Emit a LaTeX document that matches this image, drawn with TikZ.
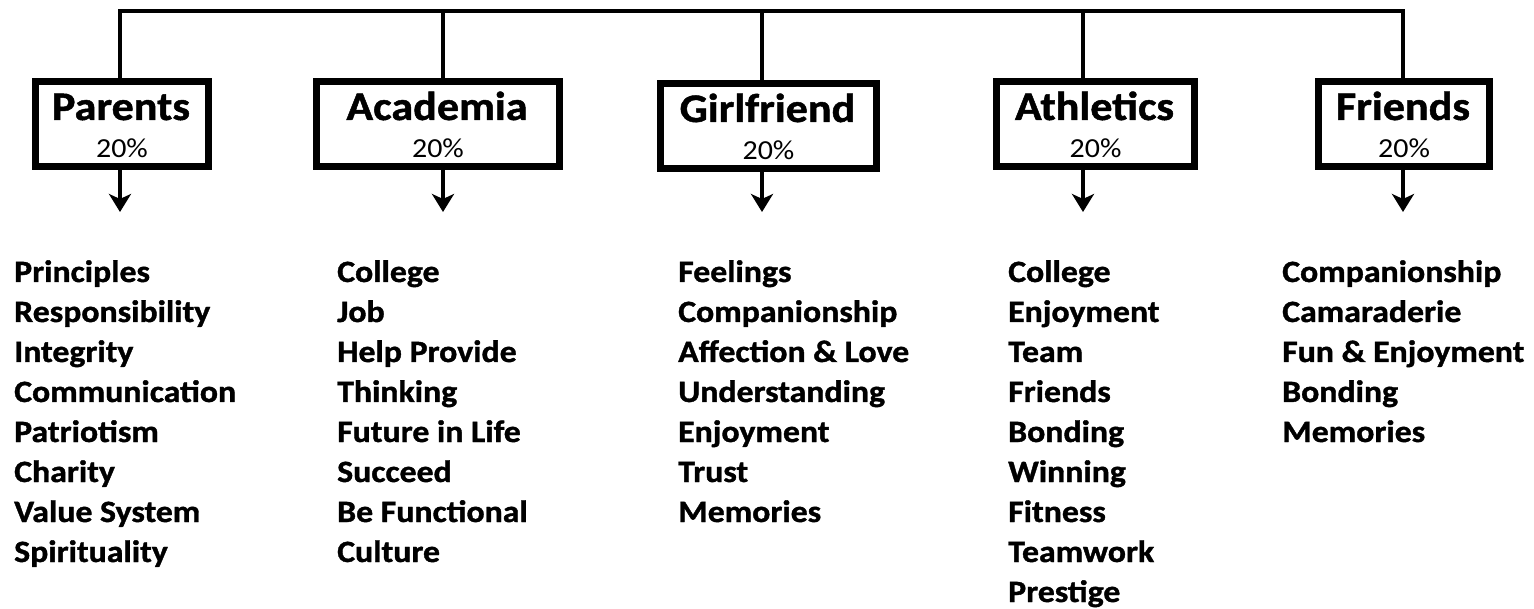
\documentclass[tikz,border=0pt]{standalone}
\usepackage{fontspec}
\setmainfont{Carlito}[FakeStretch=1.09,BoldFeatures={FakeStretch=1.09,FakeBold=1.2}]
\usetikzlibrary{arrows.meta}
\begin{document}
\begin{tikzpicture}[x=1pt,y=-1pt,line join=miter,>={Stealth[length=18pt,width=22pt,inset=5pt]},
  catbox/.style={draw,line width=7pt,inner sep=0pt,minimum height=85pt},
  title/.style={anchor=base,inner sep=0pt,font=\fontsize{40.5}{40.5}\selectfont\bfseries},
  pct/.style={anchor=base,inner sep=0pt,font=\fontsize{27.5}{27.5}\selectfont},
  item/.style={anchor=base west,inner sep=0pt,font=\fontsize{31}{31}\selectfont\bfseries},
  link/.style={line width=4pt}]
\useasboundingbox (0,0) rectangle (1534,609);
% boxes
\foreach \name/\txt/\cx/\cy/\bw in {parents/Parents/122/124/173,academia/Academia/438/124/243,
    girlfriend/Girlfriend/768.5/126/216,athletics/Athletics/1095.5/124/198,friends/Friends/1404/124/171}
  {\node[catbox,minimum width=\bw pt] (\name) at (\cx,\cy) {};
   \node[title] (\name-t) at (\cx-1,\cy-4) {\txt};
   \node[pct] (\name-p) at (\cx,\cy+34) {20\%};}
% top bar
\coordinate (b1) at (120,11);
\coordinate (b2) at (443,11);
\coordinate (b3) at (762,11);
\coordinate (b4) at (1083,11);
\coordinate (b5) at (1403,11);
\draw[link] (b1 |- parents.north) -- (b1) -- (b5) -- (b5 |- friends.north);
\draw[link] (b2) -- (b2 |- academia.north);
\draw[link] (b3) -- (b3 |- girlfriend.north);
\draw[link] (b4) -- (b4 |- athletics.north);
% arrows
\foreach \i/\name in {1/parents,2/academia,3/girlfriend,4/athletics,5/friends}
  {\coordinate (a\i) at (b\i |- 0,212);
   \draw[link,->] (b\i |- \name.south) -- (a\i);}
% lists
\foreach \w [count=\i] in {Principles,Responsibility,Integrity,Communication,Patriotism,Charity,Value System,Spirituality}
  \node[item] (par\i) at (14,242+40*\i) {\w};
\foreach \w [count=\i] in {College,Job,Help Provide,Thinking,Future in Life,Succeed,Be Functional,Culture}
  \node[item] (aca\i) at (337,242+40*\i) {\w};
\foreach \w [count=\i] in {Feelings,Companionship,Affection \& Love,Understanding,Enjoyment,Trust,Memories}
  \node[item] (gir\i) at (678,242+40*\i) {\w};
\foreach \w [count=\i] in {College,Enjoyment,Team,Friends,Bonding,Winning,Fitness,Teamwork,Prestige}
  \node[item] (ath\i) at (1008,242+40*\i) {\w};
\foreach \w [count=\i] in {Companionship,Camaraderie,Fun \& Enjoyment,Bonding,Memories}
  \node[item] (fri\i) at (1282,242+40*\i) {\w};
\end{tikzpicture}
\end{document}
